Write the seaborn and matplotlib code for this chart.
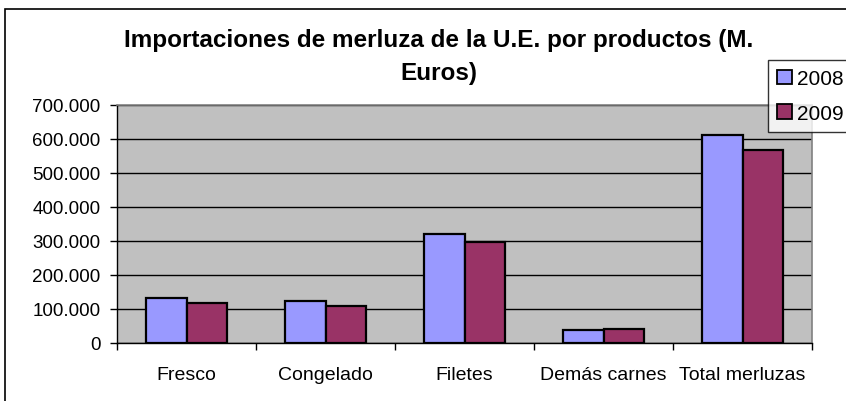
import pandas as pd
import seaborn as sns
import matplotlib.pyplot as plt
from matplotlib.ticker import FuncFormatter, MultipleLocator, FixedLocator
from matplotlib.patches import Rectangle

productos = ['Fresco', 'Congelado', 'Filetes', 'Demás carnes', 'Total merluzas']
valores_2008 = [133000, 124000, 320000, 37000, 613000]
valores_2009 = [119000, 110000, 298000, 40000, 569000]
years = ['2008', '2009']
colores = ['#9999FF', '#993366']

df = pd.DataFrame({
    'producto': productos * 2,
    'valor': valores_2008 + valores_2009,
    'year': [years[0]] * len(productos) + [years[1]] * len(productos),
})

sns.set_style('white')
plt.rcParams['font.family'] = ['Liberation Sans', 'DejaVu Sans']
plt.rcParams['text.color'] = 'black'
plt.rcParams['xtick.color'] = 'black'
plt.rcParams['ytick.color'] = 'black'

fig = plt.figure(figsize=(8.46, 4.02), dpi=100)
ax = fig.add_axes([117/846, 1 - 344/402, (812 - 117)/846, (344 - 106)/402])
ax.set_facecolor('#C0C0C0')

sns.barplot(data=df, x='producto', y='valor', hue='year', palette=colores, saturation=1,
            width=0.58, edgecolor='black', linewidth=1.6, ax=ax, legend=False)

ax.set_ylim(0, 700000)
ax.set_xlim(-0.5, 4.5)
ax.yaxis.set_major_locator(MultipleLocator(100000))
ax.yaxis.set_major_formatter(FuncFormatter(lambda v, p: f"{int(v):,}".replace(',', '.')))
ax.grid(axis='y', color='black', linewidth=1)
ax.set_axisbelow(True)
ax.set_xlabel('')
ax.set_ylabel('')

for s in ['top', 'right']:
    ax.spines[s].set_color('#808080')
    ax.spines[s].set_linewidth(1.2)
for s in ['left', 'bottom']:
    ax.spines[s].set_color('black')
    ax.spines[s].set_linewidth(1)

ax.tick_params(axis='y', left=True, length=5, width=1, color='black', labelcolor='black',
               labelsize=13.5, pad=7)
ax.xaxis.set_minor_locator(FixedLocator([-0.5, 0.5, 1.5, 2.5, 3.5, 4.5]))
ax.tick_params(axis='x', which='major', bottom=False, labelcolor='black', labelsize=14, pad=13)
ax.tick_params(axis='x', which='minor', bottom=True, length=5, width=1, color='black')

fig.text(439/846, 1 - 40/402, 'Importaciones de merluza de la U.E. por productos (M.',
         ha='center', va='center', fontsize=17.5, fontweight='bold', color='black')
fig.text(439/846, 1 - 74/402, 'Euros)', ha='center', va='center', fontsize=17.5,
         fontweight='bold', color='black')

handles = [Rectangle((0, 0), 1, 1, facecolor=c, edgecolor='black', linewidth=1.3)
           for c in colores]
leg = fig.legend(handles, years, loc='upper left', bbox_to_anchor=(768/846, 1 - 61/402),
                 frameon=True, fancybox=False, edgecolor='black', fontsize=15,
                 handlelength=0.7, handleheight=0.7, handletextpad=0.25,
                 borderpad=0.45, labelspacing=0.75, borderaxespad=0)
leg.get_frame().set_linewidth(1)
for t in leg.get_texts():
    t.set_color('black')

fig.add_artist(Rectangle((5/846, -0.1), 2, 1.1 - 10/402, transform=fig.transFigure,
                         fill=False, edgecolor='black', linewidth=1.2))

fig.savefig('out.png', dpi=100)
